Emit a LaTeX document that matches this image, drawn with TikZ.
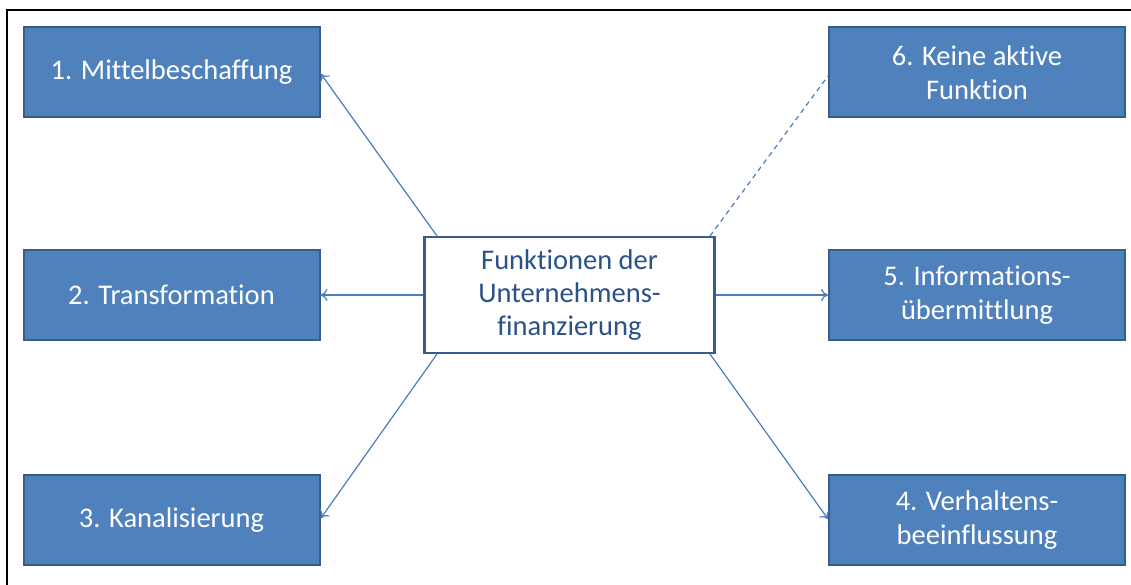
\documentclass[tikz,border=0pt]{standalone}
\usepackage{fontspec}
\setmainfont{Carlito}[Ligatures={NoCommon}]
\usetikzlibrary{arrows.meta}
\definecolor{boxfill}{HTML}{4F81BD}
\definecolor{boxline}{HTML}{385D8A}
\definecolor{conn}{HTML}{4A7EBB}
\definecolor{ctext}{HTML}{2A5287}
\tikzset{
  bluebox/.style={draw=boxline, line width=2pt, fill=boxfill, text=white,
    minimum width=296pt, minimum height=90pt, inner sep=0pt, align=center,
    font=\fontsize{28.5}{34}\selectfont},
  centerbox/.style={draw=boxline, line width=2.5pt, fill=white, text=ctext,
    minimum width=290pt, minimum height=116pt, inner sep=0pt, align=center,
    font=\fontsize{28.5}{33}\selectfont},
  conn/.style={draw=conn, line width=1.2pt, -{To[length=7pt,width=12pt]}},
  dconn/.style={draw=conn, line width=1.2pt, dash pattern=on 5pt off 4pt}
}
\begin{document}
\begin{tikzpicture}[x=1pt,y=-1pt]
\useasboundingbox (0,0) rectangle (1131,585);
\draw[black, line width=1.5pt] (7,590) -- (7,10) -- (1140,10);
\node[bluebox] (b1) at (171.5,72.5) {1. Mittelbeschaffung};
\node[bluebox] (b2) at (171.5,295) {2. Transformation};
\node[bluebox] (b3) at (171.5,520) {3. Kanalisierung};
\node[bluebox] (b6) at (977,72.5) {6. Keine aktive\\Funktion};
\node[bluebox] (b5) at (977,295) {5. Informations-\\übermittlung};
\node[bluebox] (b4) at (977,520) {4. Verhaltens-\\beeinflussung};
\node[centerbox] (c) at (569.5,295) {Funktionen der\\Unternehmens-\\finanzierung};
\coordinate (c1) at (437,236);
\coordinate (c3) at (437,354);
\coordinate (c6) at (710,236);
\coordinate (c4) at (710,354);
\coordinate (e1) at (321,74);
\coordinate (e3) at (321,518);
\coordinate (e6) at (828,76);
\coordinate (e4) at (828,519);
\draw[conn] (c1) -- (e1);
\draw[conn] (c3) -- (e3);
\draw[conn] (c.west) -- (b2.east);
\draw[conn] (c.east) -- (b5.west);
\draw[conn] (c4) -- (e4);
\draw[dconn] (c6) -- (e6);
\end{tikzpicture}
\end{document}
